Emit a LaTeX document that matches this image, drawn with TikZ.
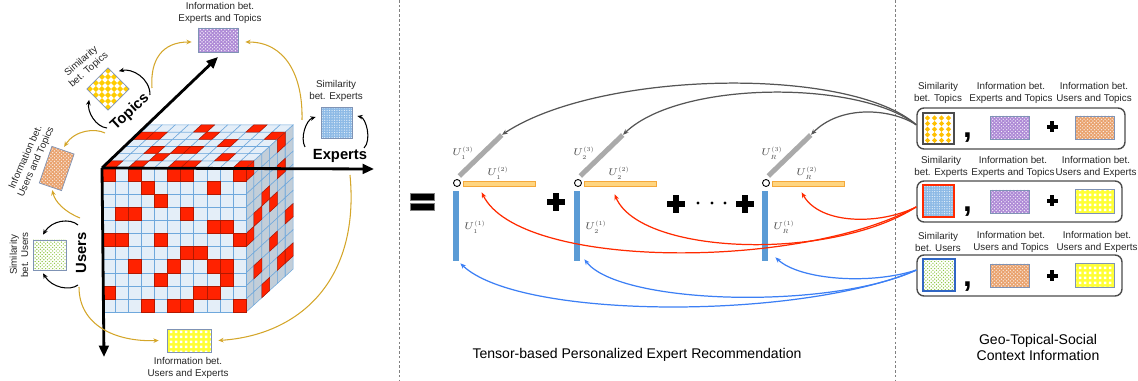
\RequirePackage{fix-cm}
\documentclass[tikz,border=0pt]{standalone}
\usepackage{fontspec}
\setmainfont{Liberation Sans}
\usetikzlibrary{arrows.meta,patterns,calc,positioning}
\DeclareMathSizes{5.5}{5.5}{3.4}{3}

\definecolor{cubeline}{HTML}{6FA8DC}
\definecolor{cubefront}{HTML}{E4EEF8}
\definecolor{cubeside}{HTML}{C2CED9}
\definecolor{hitred}{HTML}{FF2200}
\definecolor{goldarc}{HTML}{D4A62A}
\definecolor{matline}{HTML}{7F93B5}
\definecolor{matpurple}{HTML}{AE8AD6}
\definecolor{matorange}{HTML}{E9A26E}
\definecolor{matyellow}{HTML}{FFFF33}
\definecolor{matblue}{HTML}{8DBAE6}
\definecolor{matgreen}{HTML}{8CC63E}
\definecolor{checkgold}{HTML}{FFCC00}
\definecolor{dotgold}{HTML}{FFC000}
\definecolor{barorange}{HTML}{FFD580}
\definecolor{baredge}{HTML}{F4A83A}
\definecolor{barblue}{HTML}{5B9BD5}
\definecolor{bargray}{HTML}{AAAAAA}
\definecolor{arrgray}{HTML}{555555}
\definecolor{arrred}{HTML}{FF2A00}
\definecolor{arrblue}{HTML}{3C7FF5}
\definecolor{divider}{HTML}{808080}

% textures of the small matrices
\pgfdeclarepatternformonly{finedots}{\pgfqpoint{-0.5pt}{-0.5pt}}{\pgfqpoint{0.5pt}{0.5pt}}{\pgfqpoint{1.4pt}{1.4pt}}%
  {\pgfpathcircle{\pgfpointorigin}{0.33pt}\pgfusepath{fill}}
\pgfdeclarepatternformonly{finexdots}{\pgfqpoint{-0.5pt}{-0.5pt}}{\pgfqpoint{2.5pt}{2.5pt}}{\pgfqpoint{2pt}{2pt}}%
  {\pgfpathcircle{\pgfpointorigin}{0.4pt}\pgfpathcircle{\pgfqpoint{1pt}{1pt}}{0.4pt}\pgfusepath{fill}}
\pgfdeclarepatternformonly{whiteblocks}{\pgfpointorigin}{\pgfqpoint{2.6pt}{2.6pt}}{\pgfqpoint{2.6pt}{2.6pt}}%
  {\pgfpathrectangle{\pgfqpoint{0.5pt}{0.5pt}}{\pgfqpoint{1.6pt}{1.6pt}}\pgfusepath{fill}}

\def\pxl{0.02cm}

\begin{document}
\begin{tikzpicture}[x=0.02cm,y=-0.02cm,
  lbl/.style={font=\fontsize{5.6}{6.5}\selectfont, align=center, text=black!85, inner sep=0pt},
  axlbl/.style={font=\fontsize{8.4}{10}\selectfont\bfseries, inner sep=0pt},
  ulbl/.style={font=\fontsize{5.5}{6}\selectfont, text=black!70, inner sep=0pt},
  cell/.style={draw=cubeline, line width=0.3pt},
  hit/.style={fill=hitred, draw=hitred!70!black, line width=0.3pt},
  axis/.style={line width=1.6pt, -{Triangle[length=6.5pt,width=5.5pt]}},
  turn/.style={line width=0.6pt, -{Stealth[length=3pt,width=2.6pt]}},
  goldarr/.style={goldarc, line width=0.6pt, -{Stealth[length=3pt,width=2.6pt]}},
  feed/.style={line width=0.7pt, -{Stealth[length=3.2pt,width=2.6pt]}},
  mat/.style n args={2}{draw=matline, line width=0.4pt, minimum width=#1*\pxl, minimum height=#2*\pxl, inner sep=0pt},
  ctxbox/.style={draw=black!70, line width=0.8pt, rounded corners=4pt, minimum width=#1*\pxl, minimum height=41*\pxl, inner sep=0pt},
  ubar/.style={fill=barblue, minimum width=6*\pxl, minimum height=70*\pxl, inner sep=0pt},
  vbar/.style={fill=barorange, draw=baredge, line width=0.4pt, minimum width=72*\pxl, minimum height=5*\pxl, inner sep=0pt},
  wbar/.style={fill=bargray, minimum width=59*\pxl, minimum height=5*\pxl, inner sep=0pt, rotate=44},
  purplemat/.style={preaction={fill=matpurple}, pattern=finexdots, pattern color=white!90!matpurple},
  orangemat/.style={preaction={fill=matorange}, pattern=finexdots, pattern color=white!80!matorange},
  yellowmat/.style={preaction={fill=matyellow}, pattern=whiteblocks, pattern color=white},
  bluemat/.style={preaction={fill=matblue}, pattern=finedots, pattern color=white!85!matblue},
  greenmat/.style={preaction={fill=white}, pattern=finexdots, pattern color=matgreen},
]
\useasboundingbox (0,0) rectangle (1138,381);

% dividers
\draw[divider, line width=0.5pt, dash pattern=on 1.5pt off 1.2pt] (399,0) -- (399,381);
\draw[divider, line width=0.5pt, dash pattern=on 1.5pt off 1.2pt] (895,0) -- (895,381);

% ---- tensor cube ----
% top face
\foreach \col in {0,...,10}
  \foreach \dep in {0,...,5}
    \draw[cell, fill=cubefront] (102+13.1*\col+7.83*\dep, 168-7.17*\dep) -- ++(13.1,0) -- ++(7.83,-7.17) -- ++(-13.1,0) -- cycle;
\foreach \col/\dep in {0/0,2/0,5/0,6/0,10/0,3/1,8/1,2/2,4/2,5/2,7/3,0/4,1/4,5/4,10/4,4/5,8/5}
  \draw[hit] (102+13.1*\col+7.83*\dep, 168-7.17*\dep) -- ++(13.1,0) -- ++(7.83,-7.17) -- ++(-13.1,0) -- cycle;
% side face
\foreach \lay in {0,...,5}
  \foreach \row in {0,...,10}
    \draw[cell, fill=cubeside] (246.1+7.83*\lay, 168+13.1*\row-7.17*\lay) -- ++(7.83,-7.17) -- ++(0,13.1) -- ++(-7.83,7.17) -- cycle;
\foreach \lay/\row in {0/0,4/0,4/2,2/3,1/4,3/4,0/5,5/6,3/7,1/8,4/9,5/9,2/10}
  \draw[hit] (246.1+7.83*\lay, 168+13.1*\row-7.17*\lay) -- ++(7.83,-7.17) -- ++(0,13.1) -- ++(-7.83,7.17) -- cycle;
% front face
\foreach \col in {0,...,10}
  \foreach \row in {0,...,10}
    \draw[cell, fill=cubefront] (102+13.1*\col, 168+13.1*\row) rectangle ++(13.1,13.1);
\foreach \col/\row in {0/0,2/0,5/0,6/0,10/0,3/1,8/1,4/2,1/3,2/3,6/3,8/4,9/4,0/5,1/5,4/5,10/5,
    6/6,7/6,2/7,5/7,8/7,9/7,4/8,9/8,0/9,7/9,8/9,3/10,5/10,6/10,10/10}
  \draw[hit] (102+13.1*\col, 168+13.1*\row) rectangle ++(13.1,13.1);

% axes
\coordinate (origin) at (102,168);
\coordinate (usersTip) at (104,357);
\coordinate (expertsTip) at (374,169);
\coordinate (topicsTip) at (218,57);
\draw[axis] (origin) -- (usersTip);
\draw[axis] (origin) -- (expertsTip);
\draw[axis] (origin) -- (topicsTip);

\node[axlbl, rotate=43] (topicsLbl) at (130,112) {Topics};
\node[axlbl] (expertsLbl) at (340,156) {Experts};
\node[axlbl, rotate=90] (usersLbl) at (81,253) {Users};

% ---- side matrices ----
\begin{scope}[shift={(108,89)}, rotate=45]
  \fill[white] (-15,-15) rectangle (15,15);
  \foreach \i in {0,...,6}
    \foreach \j in {0,...,6} {
      \pgfmathtruncatemacro\odd{mod(\i+\j,2)}
      \ifnum\odd=0 \fill[checkgold] (-15+30/7*\i, -15+30/7*\j) rectangle ++(30/7,30/7); \fi
    }
\end{scope}
\node[draw=matline, line width=0.4pt, minimum size=30*\pxl, inner sep=0pt, rotate=45] (simT) at (108,89) {};
\node[lbl, rotate=41] at (85,66) {Similarity\\bet. Topics};

\node[mat={40}{24}, purplemat] (infoET) at (218,40) {};
\node[lbl] at (220,13) {Information bet.\\Experts and Topics};

\node[mat={31}{31}, bluemat] (simE) at (336.5,122.5) {};
\node[lbl] at (336,91) {Similarity\\bet. Experts};

\node[mat={23.5}{38.7}, rotate=-19, orangemat] (infoUT) at (56.7,168.5) {};
\node[lbl, rotate=66] at (31,160) {Information bet.\\Users and Topics};

\node[mat={33}{30}, greenmat] (simU) at (49.5,255) {};
\node[lbl, rotate=90] at (19,255) {Similarity\\bet. Users};

\node[mat={44}{23}, yellowmat] (infoUE) at (189,340.5) {};
\node[lbl] at (188,368) {Information bet.\\Users and Experts};

% self loops
\coordinate (tTopicsA) at (107,128);
\coordinate (tTopicsB) at (150,95);
\draw[turn] (tTopicsA) .. controls (96,127) and (87,112) .. ($(simT.west)+(-8,0)$);
\draw[turn] (tTopicsB) .. controls (150,78) and (132,68) .. ($(simT.east)+(0,-7)$);
\coordinate (tExpertsA) at (305,147);
\coordinate (tExpertsB) at (364,148);
\draw[turn] (tExpertsA) .. controls (300,138) and (306,120) .. ($(simE.west)+(-5,-5.5)$);
\draw[turn] (tExpertsB) .. controls (372,140) and (366,118) .. ($(simE.east)+(5,-6.5)$);
\coordinate (tUsersA) at (78,225);
\coordinate (tUsersB) at (78,285);
\draw[turn] (tUsersA) .. controls (70,218) and (52,220) .. ($(simU.north)+(-6.5,-5)$);
\draw[turn] (tUsersB) .. controls (70,291) and (52,288) .. ($(simU.south)+(-6.5,3)$);

% cross information arcs
\coordinate (gTopicsA) at (152,88);
\coordinate (gTopicsB) at (105,133);
\coordinate (gExpertsA) at (302,120);
\coordinate (gExpertsB) at (350,175);
\coordinate (gUsersA) at (80,218);
\coordinate (gUsersB) at (79,287);
\draw[goldarr] (gTopicsA) .. controls (150,60) and (162,42) .. ($(infoET.west)+(-6,2)$);
\draw[goldarr] (gExpertsA) .. controls (303,75) and (285,42) .. ($(infoET.east)+(7,2)$);
\draw[goldarr] (gTopicsB) .. controls (95,128) and (75,130) .. ($(infoUT.north)+(1,-3)$);
\draw[goldarr] (gUsersA) .. controls (65,212) and (55,202) .. ($(infoUT.south)+(2,3)$);
\draw[goldarr] (gUsersB) .. controls (79,325) and (115,342) .. ($(infoUE.west)+(-8,0)$);
\draw[goldarr] (gExpertsB) .. controls (360,280) and (300,335) .. ($(infoUE.east)+(7,0)$);

% ---- CP decomposition ----
\fill[draw=gray, line width=0.3pt] (410,193) rectangle (434,200);
\fill[draw=gray, line width=0.3pt] (410,203) rectangle (434,210);

\foreach \cx/\k in {457/1, 578/2, 766/R} {
  \node[circle, draw, line width=0.5pt, minimum size=7*\pxl, inner sep=0pt] (o\k) at (\cx,183) {};
  \node[vbar] (v\k) at (\cx+42,183.5) {};
  \node[ubar] (u\k) at (\cx-1,226) {};
  \node[wbar] (w\k) at (\cx+23.5,155.5) {};
  \node[ulbl] at (\cx+6,153) {$U_{\k}^{(3)}$};
  \node[ulbl] at (\cx+41,173) {$U_{\k}^{(2)}$};
  \node[ulbl] at (\cx+18,227) {$U_{\k}^{(1)}$};
}

\foreach \x/\y in {556/202, 676/204, 745/204} {
  \fill (\x-9,\y-3) rectangle (\x+9,\y+3);
  \fill (\x-3,\y-9) rectangle (\x+3,\y+9);
}
\foreach \x in {698,712,725}
  \fill (\x,203) circle (1.6);

% ---- context information ----
\node[ctxbox=208] (ctxT) at (1021,128.5) {};
\node[ctxbox=205] (ctxE) at (1019.5,201.5) {};
\node[ctxbox=205] (ctxU) at (1019.5,275.5) {};

\fill[white] (923,113) rectangle (954,144);
\foreach \x in {927.5,934.5,941.5,948.5}
  \foreach \y in {118,123.6,129.2,134.8,140.4}
    \fill[dotgold] (\x,\y-2.6) -- (\x+2.6,\y) -- (\x,\y+2.6) -- (\x-2.6,\y) -- cycle;
\node[draw=black!70, line width=0.8pt, minimum width=31*\pxl, minimum height=31*\pxl, inner sep=0pt] (simT2) at (938.5,128.5) {};
\node[mat={39}{23}, purplemat] (infoET2) at (1009.5,127.5) {};
\node[mat={39}{23}, orangemat] (infoUT2) at (1094.5,127.5) {};

\node[mat={31}{32}, bluemat, draw=arrred, line width=0.8pt] (simE2) at (938.5,201) {};
\node[mat={39}{23}, purplemat] (infoET3) at (1009.5,201.5) {};
\node[mat={39}{24}, yellowmat] (infoUE2) at (1094.5,201) {};

\node[mat={32}{32}, greenmat, draw=arrblue!80!black, line width=0.8pt] (simU2) at (939,275) {};
\node[mat={39}{23}, orangemat] (infoUT3) at (1009.5,275.5) {};
\node[mat={39}{24}, yellowmat] (infoUE3) at (1094.5,275) {};

\foreach \y in {127,201,276} {
  \fill (1046.5,\y-1.7) rectangle (1057.5,\y+1.7);
  \fill (1050.3,\y-5.5) rectangle (1053.7,\y+5.5);
  \node[font=\fontsize{18}{18}\selectfont\bfseries, inner sep=0pt] at (967.5,\y+11) {,};
}

\node[lbl] at (938,93) {Similarity\\bet. Topics};
\node[lbl] at (1011,93) {Information bet.\\Experts and Topics};
\node[lbl] at (1094,93) {Information bet.\\Users and Topics};
\node[lbl] at (941,167) {Similarity\\bet. Experts};
\node[lbl] at (1013,167) {Information bet.\\Experts and Topics};
\node[lbl] at (1096,167) {Information bet.\\Users and Experts};
\node[lbl] at (938,242) {Similarity\\bet. Users};
\node[lbl] at (1011,242) {Information bet.\\Users and Topics};
\node[lbl] at (1097,242) {Information bet.\\Users and Experts};

% ---- feeding arrows ----
\draw[feed, arrgray] (ctxT.178) .. controls (850,66) and (600,70) .. (w1.east);
\draw[feed, arrgray] (ctxT.178) .. controls (860,80) and (680,80) .. (w2.east);
\draw[feed, arrgray] (ctxT.178) .. controls (890,108) and (840,105) .. (wR.east);

\draw[feed, arrred] (ctxE.183) .. controls (800,270) and (520,270) .. ($(v1.south west)+(19,6)$);
\draw[feed, arrred] (ctxE.183) .. controls (830,262) and (640,255) .. ($(v2.south west)+(31,8)$);
\draw[feed, arrred] (ctxE.183) .. controls (880,225) and (820,225) .. ($(vR.south west)+(30,6)$);

\draw[feed, arrblue] (ctxU.177) .. controls (800,320) and (520,320) .. ($(u1.south east)+(1,2)$);
\draw[feed, arrblue] (ctxU.177) .. controls (830,310) and (620,305) .. ($(u2.south east)+(4,-2)$);
\draw[feed, arrblue] (ctxU.177) .. controls (870,285) and (800,280) .. ($(uR.south east)+(7,-4)$);

% captions
\node[font=\fontsize{8}{9.6}\selectfont, inner sep=0pt] (capTensor) at (637,355) {Tensor-based Personalized Expert Recommendation};
\node[font=\fontsize{8}{8.6}\selectfont, align=center, inner sep=0pt] (capContext) at (1038,347.5) {Geo-Topical-Social\\Context Information};
\end{tikzpicture}
\end{document}
